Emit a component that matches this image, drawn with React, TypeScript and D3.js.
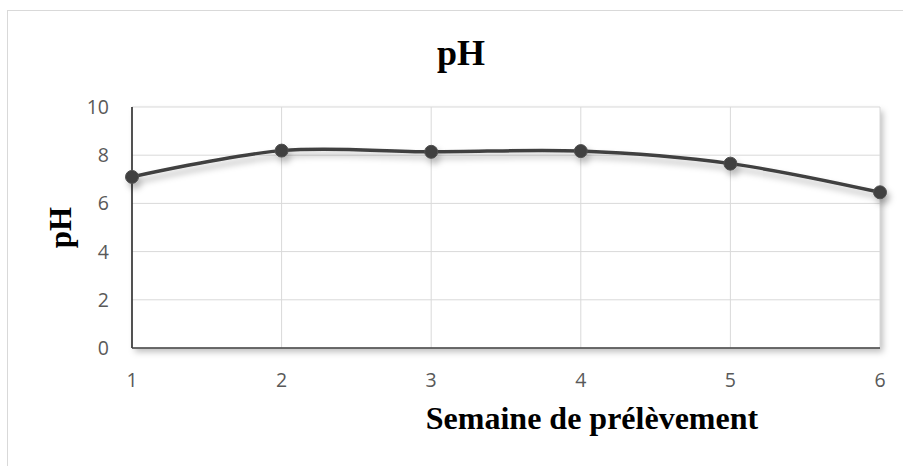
import React from "react";
import * as d3 from "d3";

const weeks = [1, 2, 3, 4, 5, 6];
const phValues = [7.1, 8.19, 8.14, 8.17, 7.65, 6.46];
const yTicks = [0, 2, 4, 6, 8, 10];
const chartTitle = "pH";
const yTitle = "pH";
const xTitle = "Semaine de prélèvement";

export default function App() {
  const W = 903, H = 466;
  const x = d3.scaleLinear().domain([1, 6]).range([132, 880]);
  const y = d3.scaleLinear().domain([0, 10]).range([348, 107]);
  const line = d3
    .line<number>()
    .x((_, i) => x(weeks[i]))
    .y((d) => y(d))
    .curve(d3.curveCatmullRom.alpha(0.5));
  const tickFont = "'Open Sans', 'Liberation Sans', sans-serif";
  const serif = "'Liberation Serif', 'Times New Roman', serif";
  return (
    <svg width={W} height={H} style={{ position: "absolute", left: 0, top: 0 }}>
      <defs>
        <filter id="sh" x="-10%" y="-20%" width="130%" height="160%">
          <feDropShadow dx="3" dy="5" stdDeviation="3" floodColor="#000" floodOpacity="0.28" />
        </filter>
        <filter id="psh" x="-5%" y="-5%" width="110%" height="120%">
          <feDropShadow dx="3" dy="4" stdDeviation="3" floodColor="#000" floodOpacity="0.25" />
        </filter>
      </defs>
      <rect x={0} y={0} width={W} height={H} fill="#fff" />
      <rect x={7.5} y={10.5} width={W + 10} height={H + 10} fill="#fff" stroke="#d9d9d9" strokeWidth={1} />
      <rect x={x(1)} y={y(10)} width={x(6) - x(1)} height={y(0) - y(10)} fill="#fff" filter="url(#psh)" />
      {yTicks.map((t) => (
        <line key={"h" + t} x1={x(1)} x2={x(6)} y1={y(t)} y2={y(t)} stroke="#d9d9d9" strokeWidth={1} />
      ))}
      {weeks.map((w) => (
        <line key={"v" + w} x1={x(w)} x2={x(w)} y1={y(10)} y2={y(0)} stroke="#d9d9d9" strokeWidth={1} />
      ))}
      <line x1={x(1)} x2={x(1)} y1={y(10)} y2={y(0)} stroke="#000" strokeWidth={1.3} />
      <line x1={x(1)} x2={x(6)} y1={y(0)} y2={y(0)} stroke="#404040" strokeWidth={1.5} />
      {yTicks.map((t) => (
        <text key={"yt" + t} x={109} y={y(t)} dy="0.36em" textAnchor="end" fontFamily={tickFont} fontSize={19.5} fill="#595959">
          {t}
        </text>
      ))}
      {weeks.map((w) => (
        <text key={"xt" + w} x={x(w)} y={387} textAnchor="middle" fontFamily={tickFont} fontSize={19.5} fill="#595959">
          {w}
        </text>
      ))}
      <g filter="url(#sh)">
        <path d={line(phValues) || ""} fill="none" stroke="#404040" strokeWidth={3.5} />
        {phValues.map((v, i) => (
          <circle key={"p" + i} cx={x(weeks[i])} cy={y(v)} r={6.5} fill="#404040" stroke="#505050" strokeWidth={1} />
        ))}
      </g>
      <text x={461} y={65} textAnchor="middle" fontFamily={serif} fontWeight="bold" fontSize={36} fill="#000">
        {chartTitle}
      </text>
      <text transform={`translate(71,227.5) rotate(-90)`} textAnchor="middle" fontFamily={serif} fontWeight="bold" fontSize={31} fill="#000">
        {yTitle}
      </text>
      <text x={592} y={429} textAnchor="middle" fontFamily={serif} fontWeight="bold" fontSize={32} fill="#000">
        {xTitle}
      </text>
    </svg>
  );
}
